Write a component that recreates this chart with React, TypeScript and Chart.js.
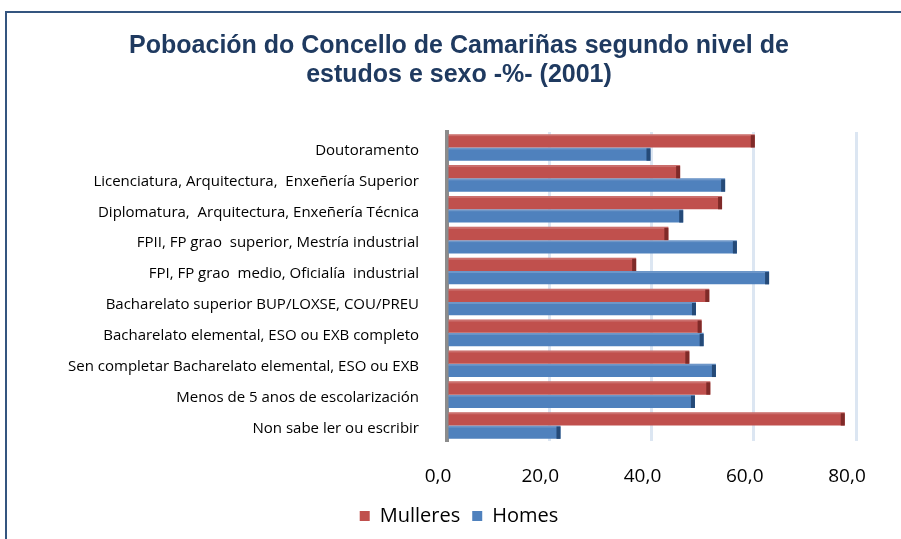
import React, { useEffect, useRef } from "react";
import { Chart, registerables } from "chart.js";

Chart.register(...registerables);

const titleLines = [
  "Poboación do Concello de Camariñas segundo nivel de",
  "estudos e sexo -%- (2001)",
];

const categories = [
  "Doutoramento",
  "Licenciatura, Arquitectura,  Enxeñería Superior",
  "Diplomatura,  Arquitectura, Enxeñería Técnica",
  "FPII, FP grao  superior, Mestría industrial",
  "FPI, FP grao  medio, Oficialía  industrial",
  "Bacharelato superior BUP/LOXSE, COU/PREU",
  "Bacharelato elemental, ESO ou EXB completo",
  "Sen completar Bacharelato elemental, ESO ou EXB",
  "Menos de 5 anos de escolarización",
  "Non sabe ler ou escribir",
];

const mulleres = [60.2, 45.6, 53.8, 43.3, 37.0, 51.3, 49.8, 47.4, 51.5, 77.8];
const homes = [39.8, 54.4, 46.2, 56.7, 63.0, 48.7, 50.2, 52.6, 48.5, 22.2];

const seriesNames = ["Mulleres", "Homes"];
const xMin = 0;
const xMax = 80;
const xStep = 20;

const RED = "#C0504D";
const BLUE = "#4F81BD";
const RED_DARK = "#7F2A28";
const BLUE_DARK = "#254A78";

const PAD_LEFT = 17;
const PLOT_LEFT = 447;
const RIGHT_GUTTER = 45;

const endCapPlugin = {
  id: "endCap",
  afterDatasetsDraw(chart: any) {
    const ctx = chart.ctx;
    chart.data.datasets.forEach((ds: any, i: number) => {
      const meta = chart.getDatasetMeta(i);
      const dark = i === 0 ? RED_DARK : BLUE_DARK;
      meta.data.forEach((bar: any) => {
        const h = bar.height;
        const top = bar.y - h / 2;
        ctx.save();
        ctx.fillStyle = "rgba(255,255,255,0.18)";
        ctx.fillRect(bar.base, top, bar.x - bar.base, 2);
        ctx.fillStyle = dark;
        ctx.fillRect(bar.x - 4, top + 1, 4, h - 1);
        ctx.restore();
      });
    });
  },
};

export default function App() {
  const ref = useRef<HTMLCanvasElement | null>(null);

  useEffect(() => {
    if (!ref.current) return;
    const chart = new Chart(ref.current, {
      type: "bar",
      data: {
        labels: categories,
        datasets: [
          {
            label: seriesNames[0],
            data: mulleres,
            backgroundColor: RED,
            categoryPercentage: 0.86,
            barPercentage: 1.0,
          },
          {
            label: seriesNames[1],
            data: homes,
            backgroundColor: BLUE,
            categoryPercentage: 0.86,
            barPercentage: 1.0,
          },
        ],
      },
      options: {
        indexAxis: "y",
        animation: false,
        responsive: false,
        maintainAspectRatio: false,
        layout: { padding: { left: PAD_LEFT, right: 0, top: 0, bottom: 3 } },
        plugins: {
          title: {
            display: true,
            text: titleLines,
            color: "#1F3A60",
            font: { family: "Liberation Sans, Arial, sans-serif", size: 25, weight: "bold", lineHeight: 1.18 },
            padding: { top: 31, bottom: 42 },
          },
          legend: {
            display: true,
            position: "bottom",
            labels: {
              boxWidth: 10,
              boxHeight: 10,
              color: "#000",
              padding: 12,
              font: { family: "Open Sans, sans-serif", size: 20 },
            },
          },
          tooltip: { enabled: false },
        },
        scales: {
          x: {
            min: xMin,
            max: xMax,
            afterFit: (scale: any) => {
              scale.height = 53;
            },
            ticks: {
              stepSize: xStep,
              color: "#000",
              padding: 24,
              labelOffset: -9,
              font: { family: "Open Sans, sans-serif", size: 19 },
              callback: (v: any) => Number(v).toFixed(1).replace(".", ","),
            },
            grid: { color: "#DCE6F2", lineWidth: 3, drawTicks: false },
            border: { display: false },
          },
          y: {
            afterFit: (scale: any) => {
              scale.width = PLOT_LEFT - PAD_LEFT;
            },
            ticks: {
              color: "#000",
              padding: 20,
              labelOffset: 3,
              font: { family: "Open Sans, sans-serif", size: 15 },
            },
            grid: { display: false },
            border: { display: true, color: "#8C8C8C", width: 4 },
          },
          gutter: {
            type: "category",
            labels: categories,
            position: "right",
            afterFit: (scale: any) => {
              scale.width = RIGHT_GUTTER;
            },
            ticks: { display: false },
            grid: { display: false },
            border: { display: false },
          },
        },
      },
      plugins: [endCapPlugin],
    });
    return () => chart.destroy();
  }, []);

  return (
    <div style={{ position: "fixed", left: 0, top: 0, width: 901, height: 539, background: "#fff", overflow: "hidden" }}>
      <canvas ref={ref} width={901} height={539} style={{ position: "absolute", left: 0, top: 0 }} />
      <div
        style={{
          position: "absolute",
          left: 5,
          top: 11,
          right: 0,
          bottom: 0,
          borderTop: "2px solid #34557F",
          borderLeft: "2px solid #34557F",
          pointerEvents: "none",
        }}
      />
    </div>
  );
}
